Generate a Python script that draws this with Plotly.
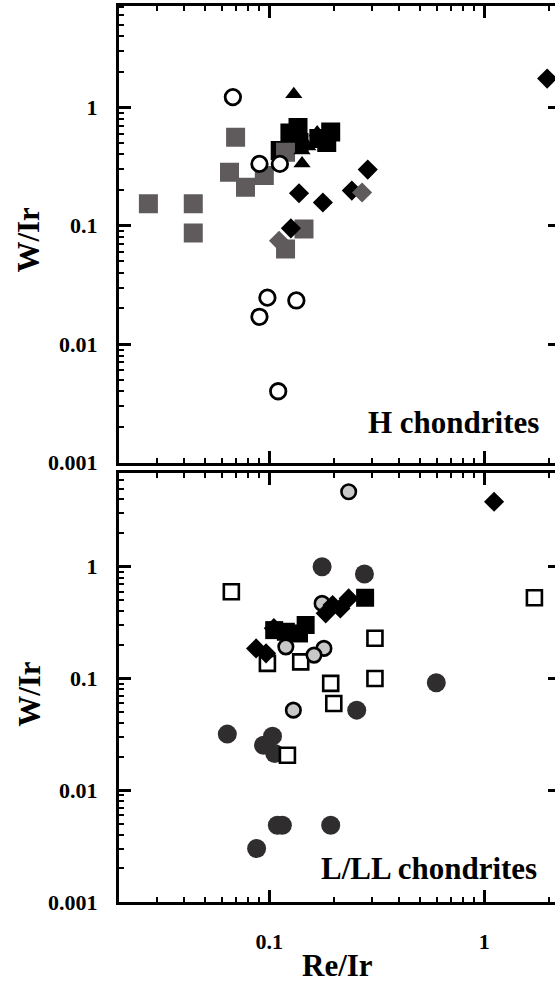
import plotly.graph_objects as go

# ---------------- data: H chondrites (top panel) ----------------
h_gray_sq_x = [0.0697, 0.0653, 0.0775, 0.0948, 0.119, 0.0274, 0.0443, 0.0443, 0.145, 0.119]
h_gray_sq_y = [0.56, 0.283, 0.211, 0.265, 0.418, 0.153, 0.153, 0.0867, 0.0938, 0.0635]

h_black_sq_x = [0.136, 0.1247, 0.1124, 0.170, 0.185, 0.193, 0.1375]
h_black_sq_y = [0.677, 0.608, 0.432, 0.546, 0.505, 0.618, 0.505]

h_tri_x = [0.130, 0.195, 0.167, 0.151, 0.142, 0.142]
h_tri_y = [1.29, 0.60, 0.614, 0.467, 0.335, 0.432]

h_open_circ_x = [0.0677, 0.090, 0.112, 0.098, 0.1336, 0.090, 0.110]
h_open_circ_y = [1.22, 0.333, 0.333, 0.0247, 0.0234, 0.0170, 0.0040]

h_black_dia_x = [0.1375, 0.1775, 0.287, 0.242, 0.126, 1.96]
h_black_dia_y = [0.188, 0.157, 0.298, 0.198, 0.095, 1.75]

h_gray_dia_x = [0.111, 0.27]
h_gray_dia_y = [0.0746, 0.191]

# ---------------- data: L/LL chondrites (bottom panel) ----------------
l_dark_circ_x = [0.176, 0.277, 0.598, 0.255, 0.0638, 0.1035, 0.094, 0.106, 0.109, 0.115, 0.193, 0.0873]
l_dark_circ_y = [1.0, 0.86, 0.0916, 0.0521, 0.0318, 0.0305, 0.0253, 0.0213, 0.00487, 0.00487, 0.00487, 0.00301]

l_open_sq_x = [0.0666, 1.71, 0.31, 0.098, 0.14, 0.193, 0.31, 0.1995, 0.1214]
l_open_sq_y = [0.597, 0.528, 0.229, 0.1365, 0.141, 0.0904, 0.1, 0.0598, 0.0206]

l_gray_circ_x = [0.234, 0.176, 0.1194, 0.1795, 0.1614, 0.1294]
l_gray_circ_y = [4.69, 0.47, 0.192, 0.186, 0.162, 0.0521]

l_black_sq_x = [0.1054, 0.1194, 0.1375, 0.1476, 0.279]
l_black_sq_y = [0.271, 0.262, 0.253, 0.301, 0.528]

l_black_dia_x = [1.11, 0.234, 0.214, 0.197, 0.183, 0.0868, 0.0966, 0.105]
l_black_dia_y = [3.82, 0.521, 0.424, 0.454, 0.383, 0.186, 0.168, 0.282]

# ---------------- axis ticks ----------------
y_tick_vals = [0.001, 0.01, 0.1, 1]
y_tick_text = ["0.001", "0.01", "0.1", "1"]
x_tick_vals = [0.01, 0.1, 1]
x_tick_text = ["0.01", "0.1", "1"]
minor_vals = [m * 10.0 ** e for e in range(-4, 2) for m in range(2, 10)]

FONT = "Liberation Serif"

fig = go.Figure()


def add(x, y, xa, ya, symbol, size, color, lw=0, lc="black"):
    fig.add_trace(go.Scatter(
        x=x, y=y, xaxis=xa, yaxis=ya, mode="markers", showlegend=False,
        hoverinfo="skip",
        marker=dict(symbol=symbol, size=size, color=color,
                    line=dict(width=lw, color=lc)),
    ))


# top panel
add(h_black_sq_x, h_black_sq_y, "x", "y", "square", 19, "black")
add(h_gray_sq_x, h_gray_sq_y, "x", "y", "square", 19, "#5f5a5b")
add(h_tri_x, h_tri_y, "x", "y", "triangle-up", 15, "black")
add(h_open_circ_x, h_open_circ_y, "x", "y", "circle", 15.5, "white", 2.8, "black")
add(h_black_dia_x, h_black_dia_y, "x", "y", "diamond", 15.5, "black")
add(h_gray_dia_x, h_gray_dia_y, "x", "y", "diamond", 15.5, "#5f5a5b")

# bottom panel
add(l_dark_circ_x, l_dark_circ_y, "x2", "y2", "circle", 19, "#2f2d2e")
add(l_open_sq_x, l_open_sq_y, "x2", "y2", "square", 15, "white", 2.6, "black")
add(l_gray_circ_x, l_gray_circ_y, "x2", "y2", "circle", 14.5, "#c8c8c8", 2.6, "black")
add(l_black_sq_x, l_black_sq_y, "x2", "y2", "square", 18, "black")
add(l_black_dia_x, l_black_dia_y, "x2", "y2", "diamond", 15.5, "black")

tickfont = dict(family=FONT, size=22, color="black", weight="bold")
minor = dict(ticks="inside", ticklen=5, tickwidth=2, tickcolor="black",
             tickmode="array", tickvals=minor_vals, showgrid=False)

common = dict(type="log", showline=True, linewidth=3, linecolor="black",
              mirror="allticks", ticks="inside", ticklen=12, tickwidth=2.5,
              tickcolor="black", showgrid=False, zeroline=False,
              tickfont=tickfont, minor=minor)

# the frame's right edge lies just beyond the visible 555 px window
xr = [-1.699, 0.352]
fig.update_layout(
    width=563, height=984,
    margin=dict(l=118.5, r=0, t=6, b=82),
    plot_bgcolor="white", paper_bgcolor="white",
    xaxis=dict(domain=[0, 1], anchor="y", range=xr, tickmode="array",
               tickvals=x_tick_vals, ticktext=x_tick_text,
               showticklabels=False, **common),
    yaxis=dict(domain=[0.4905, 1], anchor="x", range=[-3, 0.856],
               tickmode="array", tickvals=y_tick_vals, ticktext=y_tick_text,
               ticklabelstandoff=14, **common),
    xaxis2=dict(domain=[0, 1], anchor="y2", range=xr, tickmode="array",
                tickvals=x_tick_vals, ticktext=x_tick_text,
                ticklabelstandoff=18, **common),
    yaxis2=dict(domain=[0, 0.4788], anchor="x2", range=[-3, 0.839],
                tickmode="array", tickvals=y_tick_vals, ticktext=y_tick_text,
                ticklabelstandoff=14, **common),
)

title_font = dict(family=FONT, size=31, color="black", weight="bold")
fig.add_annotation(text="H chondrites", xref="paper", yref="paper",
                   x=0.957, y=0.5346, xanchor="right", yanchor="middle",
                   showarrow=False, font=title_font)
fig.add_annotation(text="L/LL chondrites", xref="paper", yref="paper",
                   x=0.953, y=0.0376, xanchor="right", yanchor="middle",
                   showarrow=False, font=title_font)
fig.add_annotation(text="Re/Ir", xref="paper", yref="paper",
                   x=0.496, y=-0.0714, xanchor="center", yanchor="middle",
                   showarrow=False, font=title_font)
fig.add_annotation(text="W/Ir", xref="paper", yref="paper", textangle=-90,
                   x=-0.2047, y=0.739, xanchor="center", yanchor="middle",
                   showarrow=False, font=title_font)
fig.add_annotation(text="W/Ir", xref="paper", yref="paper", textangle=-90,
                   x=-0.2047, y=0.232, xanchor="center", yanchor="middle",
                   showarrow=False, font=title_font)

fig.write_html("out.html",
               config={"displayModeBar": False},
               post_script="document.body.style.margin='0';"
                           "document.documentElement.style.overflow='hidden';"
                           "document.body.style.overflow='hidden';")
